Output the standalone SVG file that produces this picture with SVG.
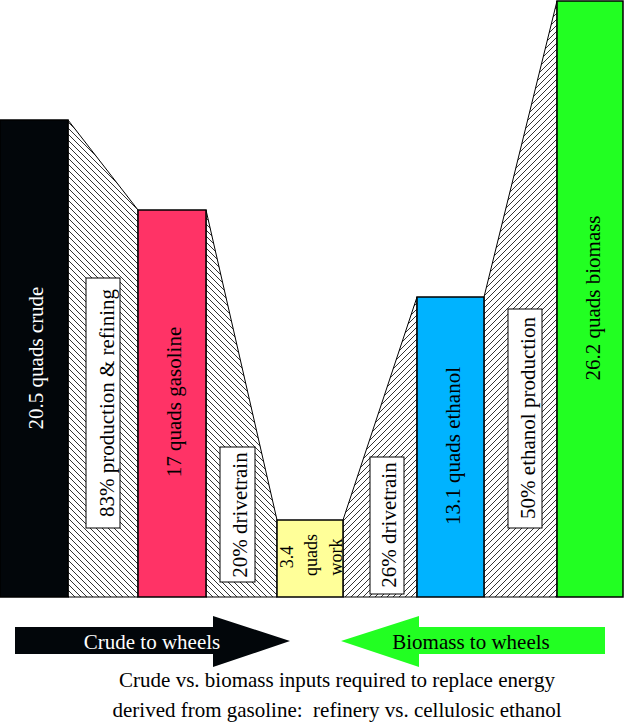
<svg xmlns="http://www.w3.org/2000/svg" width="625" height="722" viewBox="0 0 625 722">
<defs>
<pattern id="hatchBack" patternUnits="userSpaceOnUse" width="6" height="6">
<path d="M-1,-1 L7,7 M-1,5 L1,7 M5,-1 L7,1" stroke="#000" stroke-width="0.8"/>
</pattern>
<pattern id="hatchFwd" patternUnits="userSpaceOnUse" width="6" height="6">
<path d="M-1,7 L7,-1 M-1,1 L1,-1 M5,7 L7,5" stroke="#000" stroke-width="0.8"/>
</pattern>
<style>
.bar{stroke:#000;stroke-width:1.5}
.flowB{fill:url(#hatchBack);stroke:#000;stroke-width:1}
.flowF{fill:url(#hatchFwd);stroke:#000;stroke-width:1}
.lbl{fill:#fff;stroke:#000;stroke-width:1}
.t{font-family:"Liberation Serif","Times New Roman",serif;font-size:21px;fill:#000}
.tw{fill:#fff}
.mid{text-anchor:middle}
.sm{font-size:18px}
</style>
</defs>
<rect width="625" height="722" fill="#fff"/>
<g id="connectors">
<polygon class="flowB" points="68,120 138,210 138,597 68,597"/>
<polygon class="flowB" points="206,210 277,520 277,597 206,597"/>
<polygon class="flowF" points="343,520 417,297 417,597 343,597"/>
<polygon class="flowF" points="484,297 557,1 557,597 484,597"/>
</g>
<g id="crude">
<rect class="bar" x="0" y="120" width="68" height="477" fill="#02060A"/>
<text class="t tw mid" transform="translate(43,358) rotate(-90)">20.5 quads crude</text>
</g>
<g id="refining">
<rect class="lbl" x="86" y="278" width="34" height="250"/>
<text class="t mid" transform="translate(114,403) rotate(-90)">83% production &amp; refining</text>
</g>
<g id="gasoline">
<rect class="bar" x="138" y="210" width="68" height="387" fill="#FF3366"/>
<text class="t mid" transform="translate(181,402) rotate(-90)">17 quads gasoline</text>
</g>
<g id="drivetrain1">
<rect class="lbl" x="220" y="447" width="35" height="135"/>
<text class="t mid" transform="translate(247,515) rotate(-90)">20% drivetrain</text>
</g>
<g id="work">
<rect class="bar" x="277" y="520" width="66" height="77" fill="#FFFF99"/>
<text class="t mid sm" transform="translate(293,557) rotate(-90)">3.4</text>
<text class="t mid sm" transform="translate(317,555) rotate(-90)">quads</text>
<text class="t mid sm" transform="translate(342,557) rotate(-90)">work</text>
</g>
<g id="drivetrain2">
<rect class="lbl" x="370" y="457" width="34" height="137"/>
<text class="t mid" transform="translate(396,525) rotate(-90)">26% drivetrain</text>
</g>
<g id="ethanol">
<rect class="bar" x="417" y="297" width="67" height="300" fill="#00B3FF"/>
<text class="t mid" transform="translate(460,446) rotate(-90)">13.1 quads ethanol</text>
</g>
<g id="ethanolProduction">
<rect class="lbl" x="508" y="309" width="34" height="219"/>
<text class="t mid" transform="translate(535,418) rotate(-90)">50% ethanol production</text>
</g>
<g id="biomass">
<rect class="bar" x="557" y="1" width="66" height="596" fill="#22FF22"/>
<text class="t mid" transform="translate(600,298) rotate(-90)">26.2 quads biomass</text>
</g>
<g id="crudeArrow">
<polygon points="15,627 213,627 213,616 290,641 213,667 213,654 15,654" fill="#02060A"/>
<text class="t tw mid" x="152" y="649">Crude to wheels</text>
</g>
<g id="biomassArrow">
<polygon points="605,627 419,627 419,616 341,641 419,667 419,654 605,654" fill="#22FF22"/>
<text class="t mid" x="471" y="649">Biomass to wheels</text>
</g>
<g id="caption">
<text class="t mid" x="337" y="687">Crude vs. biomass inputs required to replace energy</text>
<text class="t mid" x="337" y="717" xml:space="preserve">derived from gasoline:  refinery vs. cellulosic ethanol</text>
</g>
</svg>
